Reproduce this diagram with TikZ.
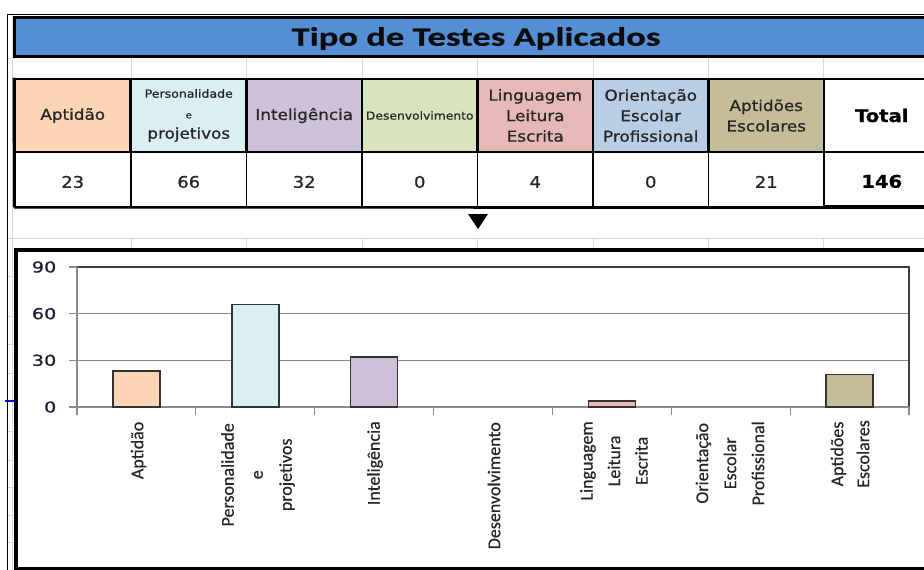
\documentclass[tikz,border=0pt]{standalone}
\usepackage{fontspec}
\newfontfamily\hdrf{DejaVu Sans}[FakeStretch=1.12, RawFeature={embolden=0.8}]
\newfontfamily\axf{DejaVu Sans}[FakeStretch=1.28, RawFeature={embolden=0.8}]
\newfontfamily\ttlf{Carlito}[FakeStretch=1.38, RawFeature={embolden=0.6}]
\newfontfamily\catf{Carlito}[RawFeature={embolden=0.5}]
\definecolor{titleblue}{HTML}{558ED5}
\definecolor{cPeach}{HTML}{FCD5B5}
\definecolor{cCyan}{HTML}{DBEEF4}
\definecolor{cLav}{HTML}{CCC0DA}
\definecolor{cGreen}{HTML}{D7E4BD}
\definecolor{cPink}{HTML}{E6B9B8}
\definecolor{cBlue}{HTML}{B9CDE5}
\definecolor{cTan}{HTML}{C4BD97}
\definecolor{gridlt}{HTML}{D5DBE6}
\definecolor{axgray}{HTML}{8A8A8A}
\definecolor{txtdark}{HTML}{262626}
\definecolor{axtxt}{HTML}{1F2038}
\tikzset{
  hcell/.style={draw, line width=2.5pt, minimum width=115.5pt, minimum height=73pt,
    inner sep=0pt, align=center, text=txtdark, font=\hdrf\fontsize{15}{20.5}\selectfont},
  vcell/.style={draw, line width=1.5pt, minimum width=115.5pt, minimum height=54.5pt,
    inner sep=0pt, text=txtdark, text height=17pt, text depth=0pt,
    font=\hdrf\fontsize{16}{19}\selectfont},
  sgrid/.style={gridlt, line width=1pt},
  ylab/.style={anchor=east, inner sep=0pt, text=axtxt, font=\axf\fontsize{15}{18}\selectfont},
  catlab/.style={rotate=90, anchor=east, inner sep=0pt, align=center, text=txtdark},
  barbox/.style={draw=black!80, line width=1.5pt}
}
\begin{document}
\begin{tikzpicture}[x=1pt,y=-1pt]
\useasboundingbox (0,0) rectangle (924,570);
\clip (0,0) rectangle (924,570);
\fill[white] (0,0) rectangle (924,570);

% spreadsheet grid (light)
\draw[sgrid] (12,14.5) -- (12,570);
\foreach \gx in {131,246.5,362,477.5,593,708.5,823.5}{
  \draw[sgrid] (\gx,57) -- (\gx,79);
  \draw[sgrid] (\gx,238) -- (\gx,249);
}
\draw[sgrid] (7.5,58) -- (15,58);
\draw[sgrid] (7.5,238) -- (924,238);
\foreach \gy in {276,316,344,373,431,460,487,515,542}{
  \draw[sgrid] (7.5,\gy) -- (14,\gy);
}
\draw[blue, line width=1.5pt] (5,401) -- (14,401);

% outer thin frame
\draw[line width=1.2pt] (7.5,570) -- (7.5,14.5) -- (924,14.5);

% title bar
\draw[fill=titleblue, line width=3pt] (14.5,17) rectangle (940,56.5);
\node[font=\ttlf\bfseries\fontsize{26.5}{30}\selectfont, text=black!95] (title) at (476,38.5) {Tipo de Testes Aplicados};

% header row
\node[hcell, fill=cPeach] (h1) at (72.75,115.5) {Aptidão};
\node[hcell, fill=cCyan] (h2) at (188.75,115.5)
  {{\fontsize{11.2}{20}\selectfont Personalidade}\\{\fontsize{9}{20}\selectfont e}\\projetivos};
\node[hcell, fill=cLav] (h3) at (304.25,115.5) {Inteligência};
\node[hcell, fill=cGreen] (h4) at (419.75,115.5) {\fontsize{11}{12}\selectfont Desenvolvimento};
\node[hcell, fill=cPink] (h5) at (535.25,115.5) {Linguagem\\Leitura\\Escrita};
\node[hcell, fill=cBlue] (h6) at (650.75,115.5) {Orientação\\Escolar\\Profissional};
\node[hcell, fill=cTan] (h7) at (766.25,115.5) {Aptidões\\Escolares};
\node[hcell, fill=white, text=black, font=\hdrf\bfseries\fontsize{17.5}{20}\selectfont] (h8) at (881.75,115.5) {Total};

% value row
\node[vcell] (v1) at (72.75,179.25) {23};
\node[vcell] (v2) at (188.75,179.25) {66};
\node[vcell] (v3) at (304.25,179.25) {32};
\node[vcell] (v4) at (419.75,179.25) {0};
\node[vcell] (v5) at (535.25,179.25) {4};
\node[vcell] (v6) at (650.75,179.25) {0};
\node[vcell] (v7) at (766.25,179.25) {21};
\node[vcell, line width=2.5pt, text=black, font=\hdrf\bfseries\fontsize{17.5}{20}\selectfont] (v8) at (881.75,179.25) {146};
\draw[line width=2.5pt] (v1.south west) -- (v8.south east);
\draw[line width=2.5pt] (v1.south west) -- (h1.north west);

% pointer triangle
\fill[black] (468,214) -- (488,214) -- (478,229) -- cycle;

% chart box
\draw[line width=4pt] (15.5,250) rectangle (945,568.5);

% plot area
\foreach \gy in {313.67,360.33}{
  \draw[axgray, line width=1pt] (77,\gy) -- (909,\gy);
}
\draw[black!75, line width=1.2pt] (77,267) -- (909,267) -- (909,407);
\draw[axgray, line width=1.2pt] (77,267) -- (77,407) -- (909,407);
\foreach \gy in {267,313.67,360.33,407}{
  \draw[axgray, line width=1.2pt] (69,\gy) -- (77,\gy);
}
\foreach \k in {0,...,7}{
  \draw[axgray, line width=1.2pt] ({77+\k*118.857},407) -- ({77+\k*118.857},415);
}
\node[ylab] (y90) at (56.5,267) {90};
\node[ylab] (y60) at (56.5,313.67) {60};
\node[ylab] (y30) at (56.5,360.33) {30};
\node[ylab] (y0) at (56.5,407) {0};

% bars
\foreach \k/\v/\c in {0/23/cPeach,1/66/cCyan,2/32/cLav,4/4/cPink,6/21/cTan}{
  \draw[barbox, fill=\c] ({77+(\k+0.5)*118.857-23.5},407) rectangle ({77+(\k+0.5)*118.857+23.5},{407-\v*140/90});
}

% category labels
\node[catlab, font=\catf\fontsize{18}{28}\selectfont] (c1) at (138.5,421.5) {Aptidão};
\node[catlab, font=\catf\fontsize{18}{29}\selectfont] (c2) at (258,423) {Personalidade\\e\\projetivos};
\node[catlab, font=\catf\fontsize{18}{28}\selectfont] (c3) at (375,421) {Inteligência};
\node[catlab, font=\catf\fontsize{18}{28}\selectfont] (c4) at (494,422) {Desenvolvimento};
\node[catlab, font=\catf\fontsize{18}{27.5}\selectfont] (c5) at (614,421) {Linguagem\\Leitura\\Escrita};
\node[catlab, font=\catf\fontsize{18}{28}\selectfont] (c6) at (730,421) {Orientação\\Escolar\\Profissional};
\node[catlab, font=\catf\fontsize{18}{26}\selectfont] (c7) at (850,420) {Aptidões\\Escolares};
\end{tikzpicture}
\end{document}
